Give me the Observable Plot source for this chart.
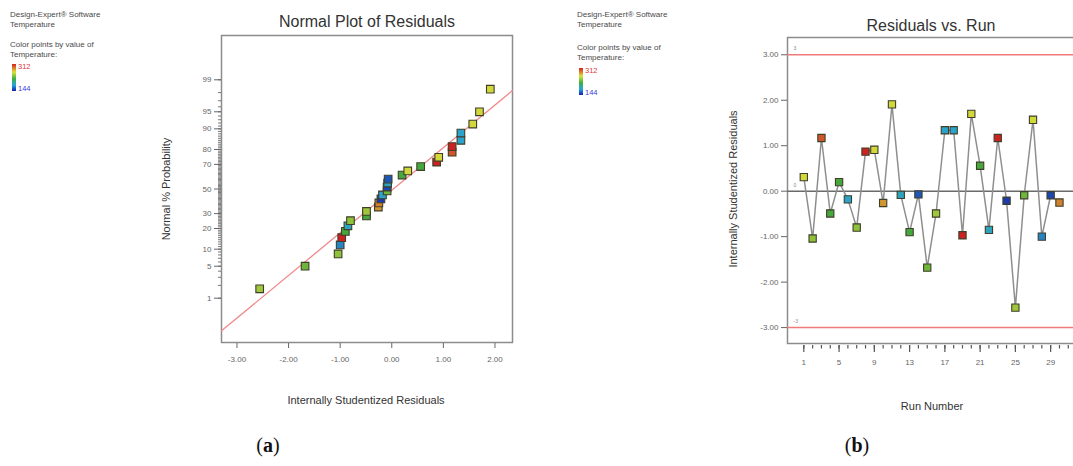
<!DOCTYPE html>
<html><head><meta charset="utf-8">
<script src="https://cdn.jsdelivr.net/npm/d3@7"></script>
<script src="https://cdn.jsdelivr.net/npm/@observablehq/plot@0.6"></script>
<style>
html,body{margin:0;padding:0;background:#fff;}
body{width:1073px;height:466px;overflow:hidden;position:relative;font-family:"Liberation Sans",Arial,sans-serif;}
.abs{position:absolute;white-space:nowrap;}
.leg{font-size:8px;color:#4a4a4a;line-height:9.5px;}
.title{font-size:16px;color:#333;transform:translateX(-50%);}
.alab{font-size:11px;color:#333;transform:translate(-50%,-50%);}
.vlab{font-size:11px;color:#333;transform:translate(-50%,-50%) rotate(-90deg);}
.cap{font-family:"Liberation Serif","Times New Roman",serif;font-size:20px;color:#111;transform:translateX(-50%);}
.bar{width:4px;height:27px;background:linear-gradient(to bottom,#d42020,#dce23a 30%,#3cb043 55%,#28a8d8 78%,#1020b0);}
</style></head><body>
<script>
// ---- data ----
const runNumbers = [1,2,3,4,5,6,7,8,9,10,11,12,13,14,15,16,17,18,19,20,21,22,23,24,25,26,27,28,29,30];
const runResiduals = [0.31,-1.04,1.17,-0.49,0.20,-0.18,-0.80,0.87,0.91,-0.26,1.91,-0.08,-0.90,-0.07,-1.68,-0.49,1.34,1.34,-0.97,1.70,0.56,-0.85,1.17,-0.21,-2.56,-0.09,1.57,-1.00,-0.09,-0.25];
const runTemperature = [270,250,300,228,228,186,250,312,270,285,270,190,228,160,240,255,186,186,312,270,228,190,312,150,255,240,270,175,155,290];

const normalResiduals = [-2.56,-1.68,-1.04,-1.00,-0.97,-0.90,-0.85,-0.80,-0.49,-0.49,-0.26,-0.25,-0.21,-0.18,-0.09,-0.09,-0.08,-0.07,0.20,0.31,0.56,0.87,0.91,1.17,1.17,1.34,1.34,1.57,1.70,1.91];
const normalPercent = [1.67,5,8.33,11.67,15,18.33,21.67,25,28.33,31.67,35,38.33,41.67,45,48.33,51.67,55,58.33,61.67,65,68.33,71.67,75,78.33,81.67,85,88.33,91.67,95,98.33];
const normalTemperature = [255,240,250,175,312,228,190,250,228,255,285,290,150,186,240,155,190,160,228,270,228,312,270,300,312,186,186,270,270,270];

const refLineResidual = [-3.30, 2.34];
const refLinePercent = [0.126, 98.2];

const probTicks = [1,5,10,20,30,50,70,80,90,95,99];
const residTicks = [-3,-2,-1,0,1,2];
const runTicks = [1,5,9,13,17,21,25,29];
const runLimitValues = [3,0,-3];
const runLimitLabels = ["3","0","-3"];
const residYTicks = [-3,-2,-1,0,1,2,3];

const tempDomain = [144,186,228,270,312];
const tempColors = ["#1828a8","#2aa4cc","#46a83c","#d2d83a","#cc2222"];

// ---- inverse normal (probability scale) ----
function probit(p){
 const a=[-3.969683028665376e+01,2.209460984245205e+02,-2.759285104469687e+02,1.383577518672690e+02,-3.066479806614716e+01,2.506628277459239e+00];
 const b=[-5.447609879822406e+01,1.615858368580409e+02,-1.556989798598866e+02,6.680131188771972e+01,-1.328068155288572e+01];
 const c=[-7.784894002430293e-03,-3.223964580411365e-01,-2.400758277161838e+00,-2.549671010243209e+00,4.374664141464968e+00,2.938163982698783e+00];
 const d=[7.784695709041462e-03,3.224671290700398e-01,2.445134137142996e+00,3.754408661907416e+00];
 const pl=0.02425, ph=1-pl; let q,r;
 if(p<pl){q=Math.sqrt(-2*Math.log(p));return (((((c[0]*q+c[1])*q+c[2])*q+c[3])*q+c[4])*q+c[5])/((((d[0]*q+d[1])*q+d[2])*q+d[3])*q+1);}
 if(p<=ph){q=p-0.5;r=q*q;return (((((a[0]*r+a[1])*r+a[2])*r+a[3])*r+a[4])*r+a[5])*q/(((((b[0]*r+b[1])*r+b[2])*r+b[3])*r+b[4])*r+1);}
 q=Math.sqrt(-2*Math.log(1-p));return -(((((c[0]*q+c[1])*q+c[2])*q+c[3])*q+c[4])*q+c[5])/((((d[0]*q+d[1])*q+d[2])*q+d[3])*q+1);
}
const zp = p => probit(p/100);

const normalData = normalResiduals.map((r,i)=>({r, p:normalPercent[i], t:normalTemperature[i]}));
const refData = refLineResidual.map((r,i)=>({r, p:refLinePercent[i]}));
const runData = runNumbers.map((n,i)=>({n, r:runResiduals[i], t:runTemperature[i]}));

const majorZ = probTicks.map(zp);
const zLabel = new Map(probTicks.map((p,i)=>[majorZ[i], String(p)]));
const minorZ = d3.range(1,100).map(zp);

const axisStyle = {fontFamily:"Liberation Sans, Arial, sans-serif", fontSize:"8px", color:"#666", background:"transparent"};
const colorOpt = {type:"linear", domain:tempDomain, range:tempColors};

const left = Plot.plot({
  width:380, height:380, marginLeft:71, marginRight:18, marginTop:35, marginBottom:38,
  x:{domain:[-3.30,2.34]},
  y:{domain:[-3.27,3.27]},
  color:colorOpt,
  style:axisStyle,
  marks:[
    Plot.frame({stroke:"#8c8c8c", strokeWidth:1.5}),
    Plot.line(refData, {x:"r", y:d=>zp(d.p), stroke:"#f08a8a", strokeWidth:1.3}),
    Plot.axisY(minorZ, {tickSize:3, tickFormat:()=>"", label:null, stroke:"#777"}),
    Plot.axisY(majorZ, {tickSize:7, tickPadding:3, tickFormat:d=>zLabel.get(d), label:null}),
    Plot.axisX(residTicks, {tickSize:5, tickPadding:8, tickFormat:d=>d.toFixed(2), label:null, dy:1}),
    Plot.dot(normalData, {x:"r", y:d=>zp(d.p), symbol:"square", r:4.3, fill:"t", stroke:"#3e3e2a", strokeWidth:1.1})
  ]
});
left.style.position="absolute"; left.style.left="150px"; left.style.top="0px";
document.body.appendChild(left);

const right = Plot.plot({
  width:371, height:380, marginLeft:67, marginRight:10, marginTop:37, marginBottom:37,
  x:{domain:[-0.85,32.5]},
  y:{domain:[-3.35,3.38]},
  color:colorOpt,
  style:axisStyle,
  marks:[
    Plot.frame({stroke:"#8c8c8c", strokeWidth:1.5}),
    Plot.ruleY([3,-3], {stroke:"#f07a7a", strokeWidth:1.5}),
    Plot.ruleY([0], {stroke:"#6a6a6a", strokeWidth:1.5}),
    Plot.text(runLimitValues, {y:d=>d, text:(d,i)=>runLimitLabels[i], frameAnchor:"left", dx:6, dy:-6, fontSize:5, fill:"#888"}),
    Plot.line(runData, {x:"n", y:"r", stroke:"#8f8f8f", strokeWidth:1.5}),
    Plot.dot(runData, {x:"n", y:"r", symbol:"square", r:4.1, fill:"t", stroke:"#3e3e2a", strokeWidth:1.1}),
    Plot.axisY(residYTicks, {tickSize:6, tickPadding:3, tickFormat:d=>d.toFixed(2), label:null}),
    Plot.axisX(d3.range(1,33), {tickSize:3.5, tickFormat:()=>"", label:null, dy:2, stroke:"#555", strokeWidth:1.2}),
    Plot.axisX(runTicks, {tickSize:7, tickPadding:7, tickFormat:d=>String(d), label:null, dy:2, stroke:"#555", strokeWidth:1.2})
  ]
});
right.style.position="absolute"; right.style.left="720px"; right.style.top="0px";
document.body.appendChild(right);

function addDiv(cls, html, css){const e=document.createElement("div");e.className="abs "+cls;e.innerHTML=html;Object.assign(e.style,css);document.body.appendChild(e);return e;}

// legends
[[10,10,40,62],[577,10,43,66]].forEach(([x,y1,y2,yb])=>{
  addDiv("leg","Design-Expert® Software<br>Temperature",{left:x+"px",top:y1+"px"});
  addDiv("leg","Color points by value of<br>Temperature:",{left:x+"px",top:y2+"px"});
  addDiv("bar","",{left:(x+2)+"px",top:(yb+2)+"px"});
  addDiv("leg","312",{left:(x+8)+"px",top:(yb)+"px",color:"#e03838",fontSize:"7.5px"});
  addDiv("leg","144",{left:(x+8)+"px",top:(yb+22)+"px",color:"#3838e0",fontSize:"7.5px"});
});

addDiv("title","Normal Plot of Residuals",{left:"367px",top:"13px"});
addDiv("title","Residuals vs. Run",{left:"931px",top:"17px"});
addDiv("alab","Internally Studentized Residuals",{left:"366px",top:"400px"});
addDiv("alab","Run Number",{left:"932px",top:"406px"});
addDiv("vlab","Normal % Probability",{left:"166px",top:"189px"});
addDiv("vlab","Internally Studentized Residuals",{left:"733px",top:"189px"});
addDiv("cap","(<b>a</b>)",{left:"268px",top:"434px"});
addDiv("cap","(<b>b</b>)",{left:"857px",top:"434px"});
</script>
</body></html>
